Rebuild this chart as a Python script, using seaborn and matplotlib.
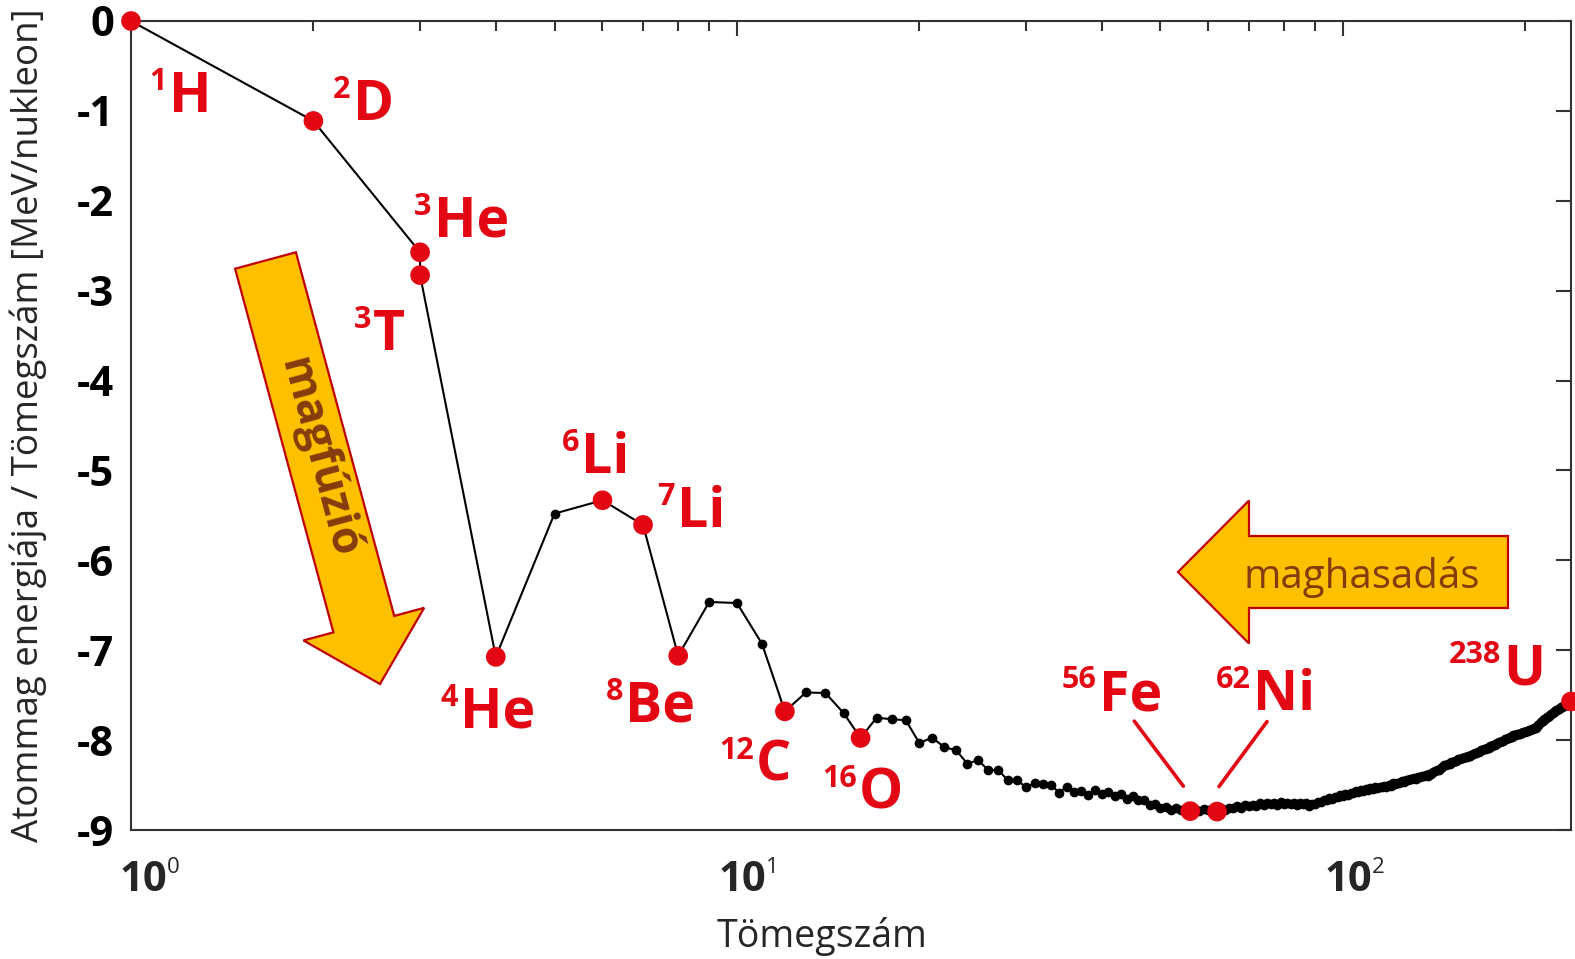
import numpy as np
import pandas as pd
import matplotlib
matplotlib.use('Agg')
import matplotlib.pyplot as plt
import seaborn as sns
from matplotlib.patches import FancyArrow
from matplotlib.transforms import Affine2D, offset_copy, blended_transform_factory

# Tömegszám és kötési energia / nukleon (MeV), a legstabilabb izobár
mass_light = [1, 2, 3, 3]
binding_light = [0.000, 1.112, 2.573, 2.827]

mass_rest = list(range(4, 239))
binding_rest = [
    7.074, 5.480, 5.332, 5.606, 7.062, 6.463,                              # 4-9
    6.475, 6.928, 7.680, 7.470, 7.476, 7.699, 7.976, 7.751, 7.767, 7.779,  # 10-19
    8.032, 7.972, 8.080, 8.112, 8.261, 8.224, 8.334, 8.332, 8.448, 8.449,  # 20-29
    8.521, 8.481, 8.493, 8.498, 8.584, 8.520, 8.575, 8.570, 8.614, 8.557,  # 30-39
    8.595, 8.576, 8.617, 8.601, 8.658, 8.619, 8.669, 8.661, 8.723, 8.711,  # 40-49
    8.756, 8.742, 8.776, 8.760, 8.778, 8.765, 8.790, 8.770, 8.792, 8.768,  # 50-59
    8.781, 8.765, 8.795, 8.752, 8.777, 8.757, 8.760, 8.734, 8.756, 8.725,  # 60-69
    8.730, 8.718, 8.732, 8.705, 8.725, 8.701, 8.711, 8.695, 8.718, 8.688,  # 70-79
    8.711, 8.696, 8.711, 8.696, 8.717, 8.697, 8.712, 8.705, 8.733, 8.714,  # 80-89
    8.710, 8.693, 8.693, 8.664, 8.667, 8.649, 8.654, 8.635, 8.635, 8.609,  # 90-99
    8.619, 8.601, 8.607, 8.584, 8.585, 8.571, 8.580, 8.554, 8.567, 8.548,  # 100-109
    8.551, 8.537, 8.545, 8.527, 8.532, 8.517, 8.523, 8.510, 8.517, 8.499,  # 110-119
    8.505, 8.482, 8.488, 8.472, 8.474, 8.458, 8.463, 8.446, 8.449, 8.431,  # 120-129
    8.438, 8.424, 8.428, 8.410, 8.414, 8.397, 8.403, 8.392, 8.394, 8.378,  # 130-139
    8.376, 8.354, 8.346, 8.330, 8.327, 8.309, 8.304, 8.281, 8.280, 8.263,  # 140-149
    8.262, 8.239, 8.244, 8.229, 8.227, 8.213, 8.215, 8.204, 8.202, 8.189,  # 150-159
    8.184, 8.173, 8.174, 8.162, 8.159, 8.147, 8.142, 8.132, 8.130, 8.115,  # 160-169
    8.112, 8.098, 8.097, 8.087, 8.084, 8.069, 8.064, 8.052, 8.049, 8.039,  # 170-179
    8.035, 8.023, 8.018, 8.008, 8.005, 7.991, 7.989, 7.974, 7.973, 7.963,  # 180-189
    7.962, 7.948, 7.948, 7.938, 7.936, 7.927, 7.927, 7.916, 7.914, 7.905,  # 190-199
    7.906, 7.898, 7.897, 7.887, 7.886, 7.878, 7.875, 7.870, 7.868, 7.848,  # 200-209
    7.836, 7.817, 7.804, 7.791, 7.785, 7.770, 7.762, 7.748, 7.742, 7.727,  # 210-219
    7.720, 7.706, 7.695, 7.685, 7.680, 7.667, 7.662, 7.651, 7.645, 7.634,  # 220-229
    7.631, 7.620, 7.615, 7.604, 7.600, 7.591, 7.586, 7.576, 7.570,         # 230-238
]
assert len(binding_rest) == len(mass_rest)

mass_number = mass_light + mass_rest
energy = [-b for b in binding_light + binding_rest]

# kiemelt magok
hl_mass = [1, 2, 3, 3, 4, 6, 7, 8, 12, 16, 56, 62, 238]
hl_energy = [0.000, -1.112, -2.573, -2.827, -7.074, -5.332, -5.606,
             -7.062, -7.680, -7.976, -8.790, -8.795, -7.570]
hl_sup = ['1', '2', '3', '3', '4', '6', '7', '8', '12', '16', '56', '62', '238']
hl_sym = ['H', 'D', 'He', 'T', 'He', 'Li', 'Li', 'Be', 'C', 'O', 'Fe', 'Ni', 'U']

y_ticks = list(range(0, -10, -1))
x_ticks = [1, 10, 100]
x_tick_base = ['10', '10', '10']
x_tick_exp = ['0', '1', '2']

# címke eltolások (pont) a piros ponthoz képest
label_offsets = [(27.2, -65.5), (28.4, 0.7), (9.7, 11.5), (-34, -53.6), (-25.5, -51),
                 (-15.5, 20), (24.1, -1.5), (-38.1, -47.5), (-20.7, -50), (-1.3, -50.8),
                 (-65.9, 72.7), (25.8, 73.4), (-48.7, 11.9)]
xtick_shift = [9, 4, 4]   # pont, jobbra

RED = '#E30613'
GOLD = '#FFC000'
EDGE = '#C00000'
BROWN = '#843C0C'
AXC = '#333333'

sns.set_style('white')
plt.rcParams['font.family'] = ['Open Sans', 'DejaVu Sans']
plt.rcParams['axes.unicode_minus'] = False

W, H = 1575, 959
fig = plt.figure(figsize=(W / 100, H / 100), dpi=100)
ax = fig.add_axes([131 / W, 1 - 830 / H, (1571 - 131) / W, (830 - 21) / H])

df = pd.DataFrame({'A': mass_number, 'E': energy})
sns.lineplot(data=df, x='A', y='E', sort=False, estimator=None, color='black',
             linewidth=1.5, marker='o', markersize=7, markeredgewidth=0, ax=ax)
sns.scatterplot(x=hl_mass, y=hl_energy, color=RED, s=200, edgecolor='none',
                zorder=5, clip_on=False, ax=ax)

ax.set_xscale('log')
ax.set_xlim(1, 238)
ax.set_ylim(-9, 0)
ax.set_xticks(x_ticks, ['', '', ''])
ax.xaxis.set_minor_formatter(matplotlib.ticker.NullFormatter())
ax.set_yticks(y_ticks, [str(v) for v in y_ticks], fontsize=30, fontweight='bold')

for s in ax.spines.values():
    s.set_color(AXC)
    s.set_linewidth(1.5)
ax.tick_params(which='both', direction='in', top=True, right=True, color=AXC,
               width=1.5, labelcolor='black')
ax.tick_params(which='major', length=11)
ax.tick_params(which='minor', length=7)
ax.tick_params(axis='y', pad=12)

# x tengely feliratai: 10 + kis felső index
xt = blended_transform_factory(ax.transData, ax.transAxes)
for x, base, exp, sh in zip(x_ticks, x_tick_base, x_tick_exp, xtick_shift):
    t = ax.text(x, -0.037, base, transform=offset_copy(xt, fig=fig, x=sh, y=0, units='points'),
                ha='center', va='top', fontsize=30, fontweight='bold')
    ax.annotate(exp, xy=(1, 1), xycoords=t, xytext=(0, 2.2), textcoords='offset points',
                ha='left', va='top', fontsize=16, annotation_clip=False)

ax.set_xlabel('Tömegszám', fontsize=27)
ax.xaxis.set_label_coords(0.48, -0.107)
ax.set_ylabel('Atommag energiája / Tömegszám [MeV/nukleon]', fontsize=26.5)
ax.yaxis.set_label_coords(-0.058, 0.5)

for A, E, sup, sym, off in zip(hl_mass, hl_energy, hl_sup, hl_sym, label_offsets):
    main = ax.annotate(sym, xy=(A, E), xytext=off, textcoords='offset points',
                       ha='left', va='baseline', color=RED, fontsize=40,
                       fontweight='bold', annotation_clip=False)
    ax.annotate(sup, xy=(0, 1), xycoords=main, xytext=(-1.5, 2),
                textcoords='offset points', ha='right', va='top', color=RED,
                fontsize=22, fontweight='bold', annotation_clip=False)

# Fe és Ni mutatóvonalak
for A, E, end, rel in [(56, -8.790, (-5, 18), (-35.3, 46.8)),
                       (62, -8.795, (1.4, 18), (34.6, 46.8))]:
    tr = offset_copy(ax.transData, fig=fig, x=end[0], y=end[1], units='points')
    ax.annotate('', xy=(A, E), xycoords=tr, xytext=rel, textcoords='offset points',
                arrowprops=dict(arrowstyle='-', color=RED, lw=2.6,
                                shrinkA=0, shrinkB=0), annotation_clip=False)

# nyilak pixelkoordinátákban (bal felső sarok az origó)
pix = Affine2D().scale(0.01, -0.01).translate(0, H / 100) + fig.dpi_scale_trans

fission = FancyArrow(1508, 572, -330, 0, width=72, head_width=143, head_length=71,
                     length_includes_head=True, facecolor=GOLD, edgecolor=EDGE,
                     linewidth=1.6, transform=pix)
fig.add_artist(fission)
fig.text(1362, 588, 'maghasadás', transform=pix, ha='center', va='baseline',
         fontsize=29, color=BROWN)

fusion = FancyArrow(265.5, 260.5, 114.5, 423.5, width=63, head_width=125,
                    head_length=62, length_includes_head=True, facecolor=GOLD,
                    edgecolor=EDGE, linewidth=1.6, transform=pix)
fig.add_artist(fusion)
fig.text(318, 458, 'magfúzió', transform=pix, ha='center', va='center',
         rotation=-75, rotation_mode='anchor', fontsize=32, fontweight='bold',
         color=BROWN)

fig.savefig('out.png', dpi=100)
